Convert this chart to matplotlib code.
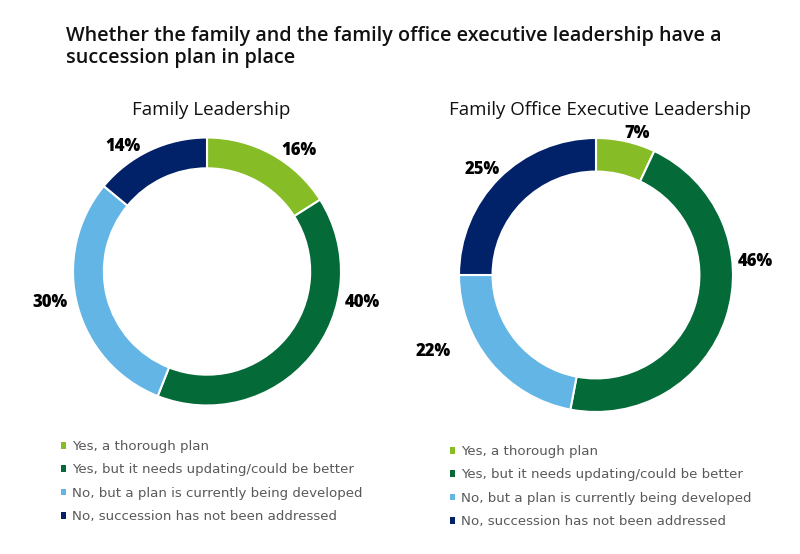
import matplotlib.pyplot as plt

categories = ['Yes, a thorough plan',
              'Yes, but it needs updating/could be better',
              'No, but a plan is currently being developed',
              'No, succession has not been addressed']
family_vals = [16, 40, 30, 14]
office_vals = [7, 46, 22, 25]
colors = ['#86BC25', '#046A38', '#62B5E5', '#012169']

W, H = 800, 554
fig = plt.figure(figsize=(W / 100, H / 100), dpi=100)
fig.patch.set_facecolor('white')

def donut(cx, cy, r, vals, ring, label_pos):
    pad = 1.3
    side = 2 * pad * r
    ax = fig.add_axes([(cx - side / 2) / W, (H - cy - side / 2) / H, side / W, side / H])
    wedges, _ = ax.pie(vals, colors=colors, startangle=90, counterclock=False,
                       radius=1, wedgeprops=dict(width=ring, edgecolor='white', linewidth=1.5))
    for v, (x, y) in zip(vals, label_pos):
        ax.text(x, y, f'{v}%', ha='center', va='center', fontsize=12,
                fontweight='extra bold', fontstretch='normal', family='Open Sans', color='black')
    ax.set_xlim(-pad, pad)
    ax.set_ylim(-pad, pad)
    ax.set_aspect('equal')
    ax.axis('off')
    return wedges

w1 = donut(207, 271.5, 134, family_vals, 0.23,
           [(0.69, 0.90), (1.16, -0.235), (-1.17, -0.23), (-0.63, 0.93)])
w2 = donut(596, 275, 137, office_vals, 0.245,
           [(0.30, 1.03), (1.16, 0.095), (-1.19, -0.555), (-0.83, 0.77)])

fig.text(66 / W, 1 - 47 / H, 'Whether the family and the family office executive leadership have a\nsuccession plan in place',
         ha='left', va='center', fontsize=14.2, fontweight='semibold', fontstretch='normal',
         family='Open Sans', color='#111111', linespacing=1.2)
fig.text(211 / W, 1 - 110 / H, 'Family Leadership', ha='center', va='center',
         fontsize=13.5, family='Open Sans', color='#111111')
fig.text(600 / W, 1 - 110 / H, 'Family Office Executive Leadership', ha='center', va='center',
         fontsize=13.5, family='Open Sans', color='#111111')

for wedges, (lx, ly) in [(w1, (61, 440)), (w2, (450, 445))]:
    leg = fig.legend(wedges, categories, loc='upper left', bbox_to_anchor=(lx / W, 1 - ly / H),
                     frameon=False, fontsize=9.6, handlelength=0.4, handleheight=0.4,
                     handletextpad=0.45, labelspacing=0.78, borderaxespad=0, borderpad=0)
    for t in leg.get_texts():
        t.set_color('#595959')
    for h in leg.legend_handles:
        h.set_linewidth(0)

fig.savefig('out.png', dpi=100, facecolor='white')
